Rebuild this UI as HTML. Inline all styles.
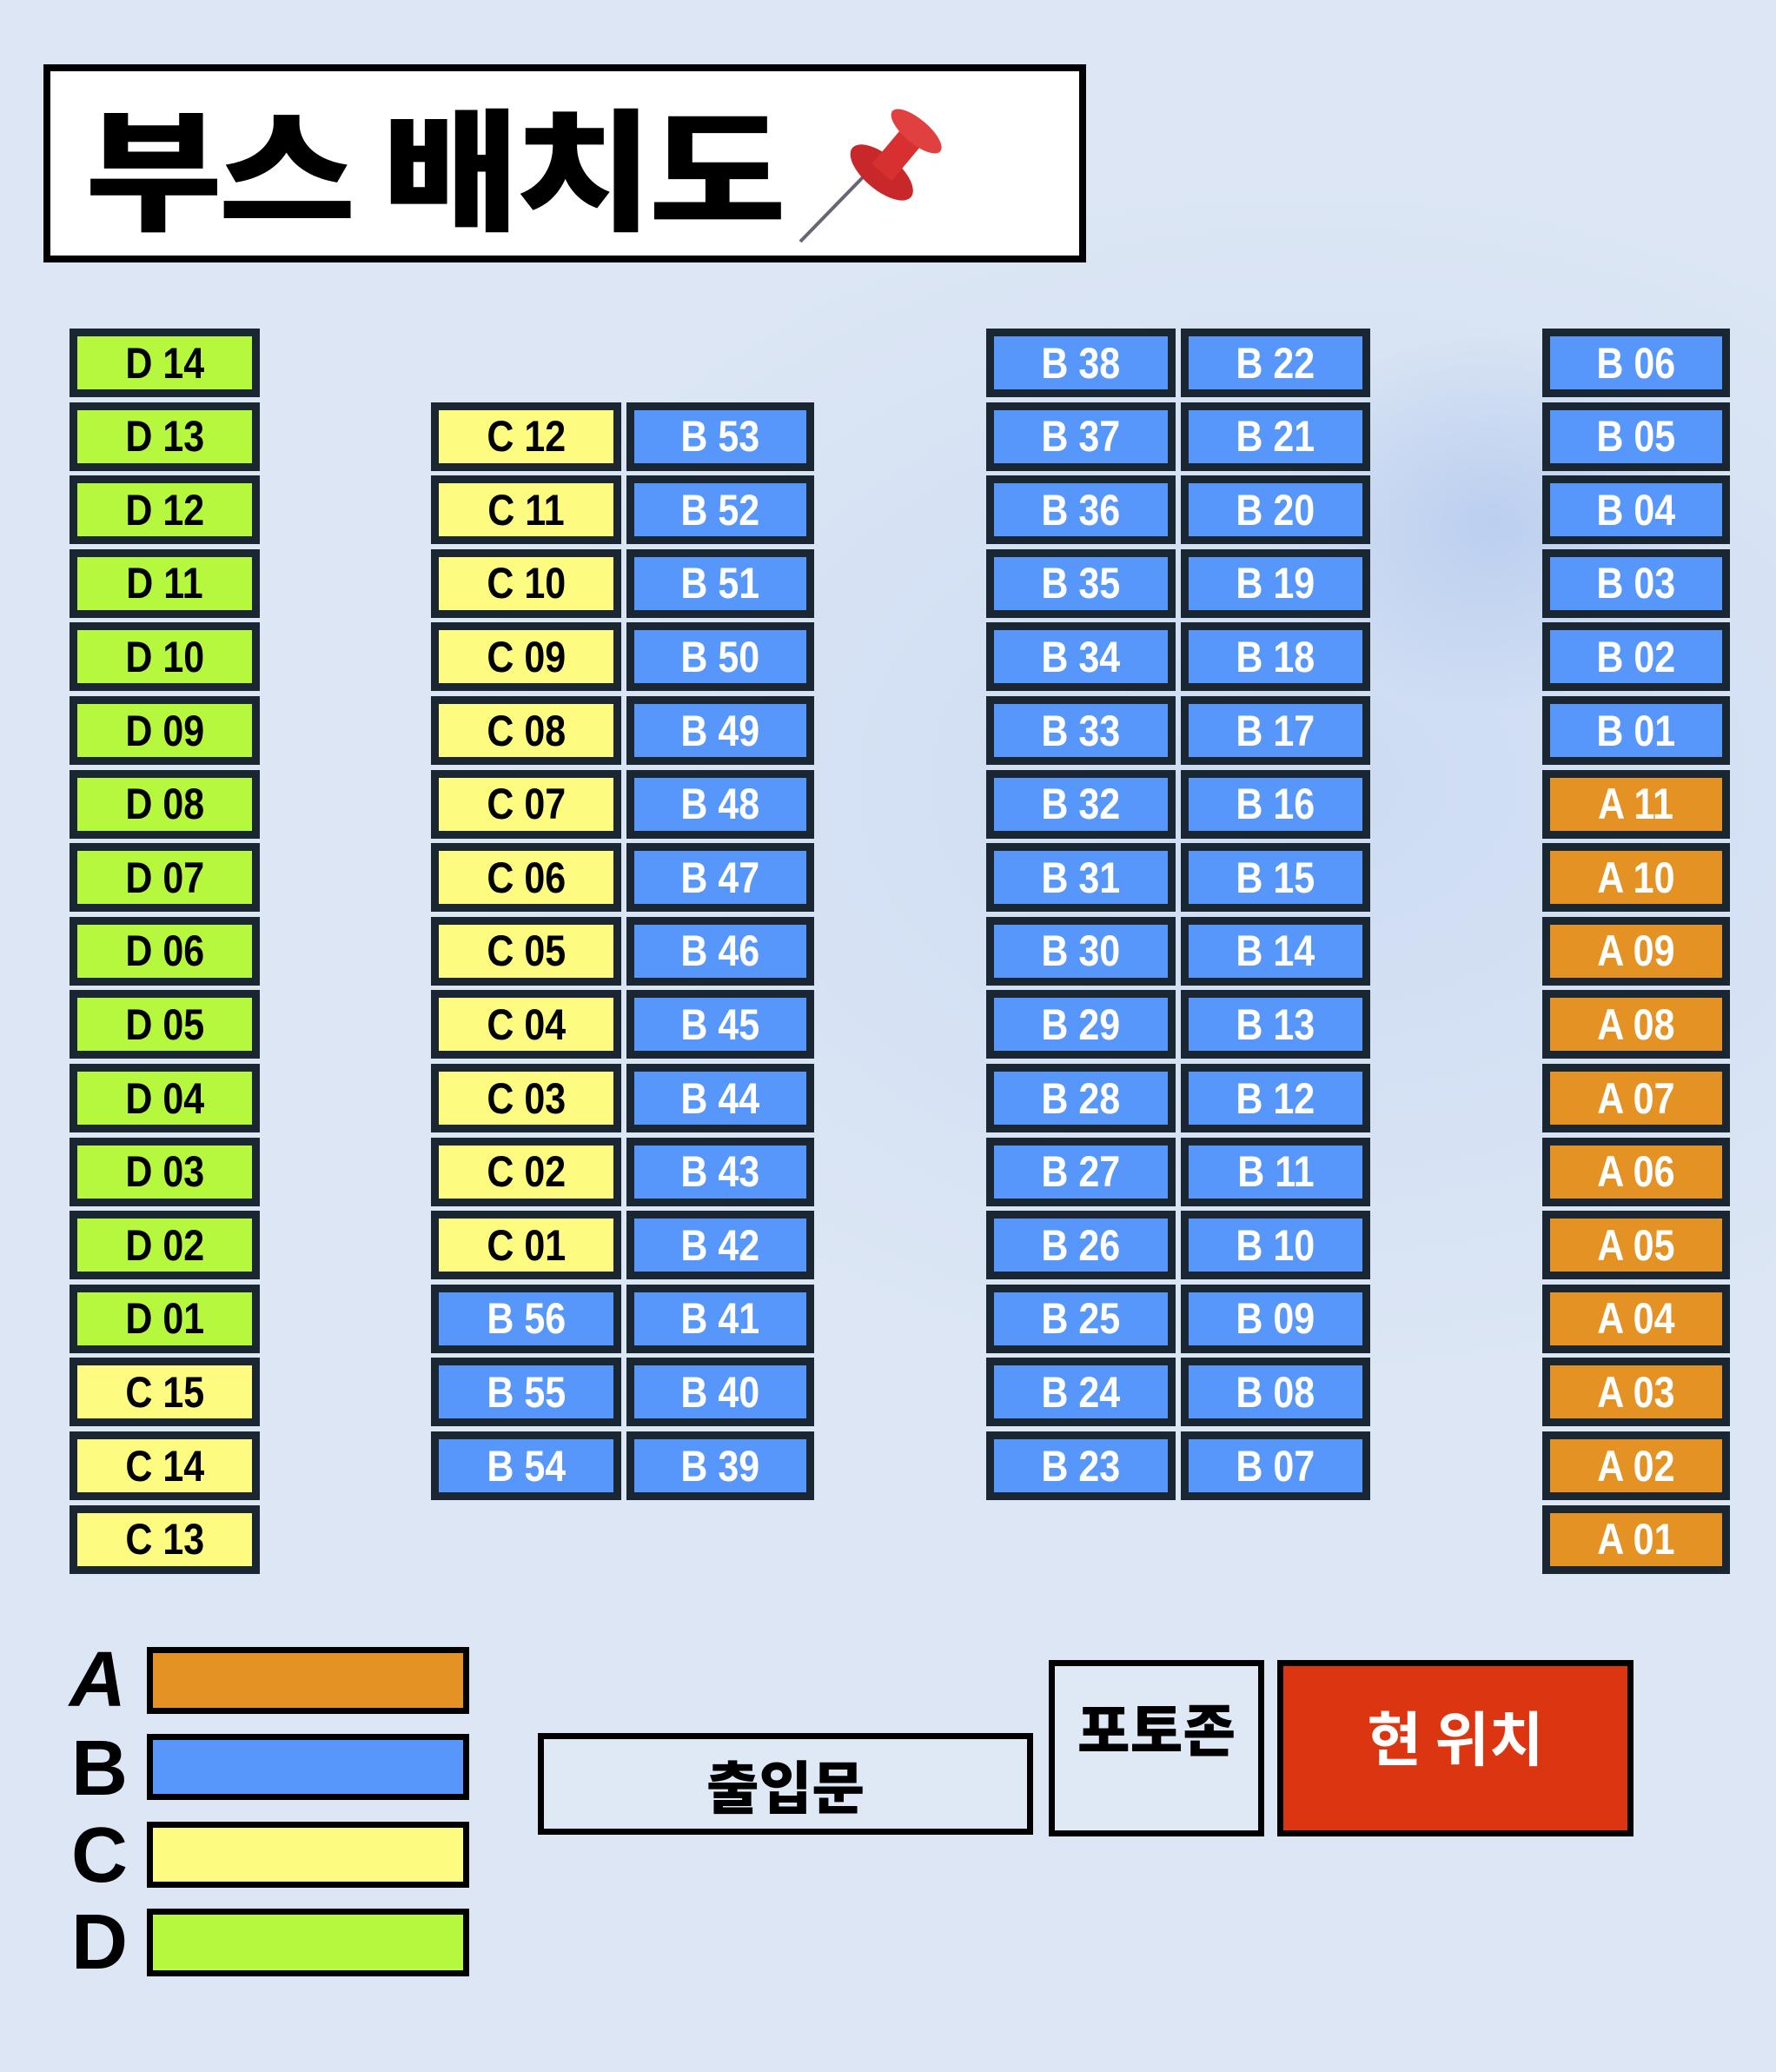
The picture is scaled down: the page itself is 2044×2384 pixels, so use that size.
<!DOCTYPE html>
<html><head><meta charset="utf-8">
<style>
html,body{margin:0;padding:0}
body{width:2044px;height:2384px;position:relative;overflow:hidden;
background:radial-gradient(ellipse 260px 220px at 1720px 600px,rgba(130,165,230,.3),rgba(130,165,230,0)),radial-gradient(ellipse 1000px 700px at 1500px 900px,rgba(170,195,240,.3),rgba(170,195,240,0)),#dce6f4;
font-family:"Liberation Sans","Noto Sans CJK KR",sans-serif}
.booth{position:absolute;box-sizing:border-box;border:9px solid #1a2733;display:flex;align-items:center;justify-content:center;font-size:50px;font-weight:bold}
.booth span{display:inline-block;transform:scaleX(.86)}
.box{position:absolute;box-sizing:border-box;border:7px solid #000;display:flex;align-items:center;justify-content:center;font-family:"Noto Sans CJK KR",sans-serif;font-weight:900}
.leg{position:absolute;font-weight:900;font-size:90px;line-height:90px;font-family:"Liberation Sans",sans-serif}
</style></head><body>
<div style="position:absolute;left:50px;top:74px;width:1200px;height:228px;box-sizing:border-box;border:8px solid #000;background:#fff"></div>
<div style="position:absolute;left:98px;top:92px;font-family:'Noto Sans CJK KR',sans-serif;font-weight:900;font-size:152px;line-height:190px;letter-spacing:-4px;transform:scaleX(1.13);transform-origin:left center">부스 배치도</div>
<svg style="position:absolute;left:915px;top:104px" width="185" height="180" viewBox="0 0 185 180">
<line x1="6" y1="174" x2="78" y2="100" stroke="#667" stroke-width="4"/>
<g transform="rotate(40 110 90)">
<ellipse cx="105" cy="100" rx="44" ry="20" fill="#c8282a"/>
<rect x="90" y="40" width="30" height="60" fill="#d83030"/>
<ellipse cx="105" cy="38" rx="36" ry="14" fill="#e04040"/>
</g></svg>
<div id="grid"></div>
<div class="leg" style="left:80px;top:1888px;font-style:italic">A</div>
<div class="leg" style="left:82px;top:1990px">B</div>
<div class="leg" style="left:82px;top:2090px">C</div>
<div class="leg" style="left:82px;top:2190px">D</div>
<div class="box" style="left:169px;top:1895px;width:371px;height:77px;background:#e59224"></div>
<div class="box" style="left:169px;top:1995px;width:371px;height:76px;background:#5796fb"></div>
<div class="box" style="left:169px;top:2096px;width:371px;height:76px;background:#fefc80"></div>
<div class="box" style="left:169px;top:2196px;width:371px;height:78px;background:#b5f83e"></div>
<div class="box" style="left:619px;top:1994px;width:570px;height:117px;background:#dfe8f5;font-size:66px">출입문</div>
<div class="box" style="left:1207px;top:1910px;width:248px;height:203px;background:#dfe8f5;font-size:66px;padding-bottom:50px">포토존</div>
<div class="box" style="left:1470px;top:1910px;width:410px;height:203px;background:#dc3512;color:#fff;font-size:68px;font-weight:bold;padding-bottom:30px">현 위치</div>
<script>
const colX=[80,496,721,1135,1359,1775];
const colW=[219,219,216,218,218,216];
const colStart=[0,1,1,0,0,0];
const col0=['D 14','D 13','D 12','D 11','D 10','D 09','D 08','D 07','D 06','D 05','D 04','D 03','D 02','D 01','C 15','C 14','C 13'];
const col1=['C 12','C 11','C 10','C 09','C 08','C 07','C 06','C 05','C 04','C 03','C 02','C 01','B 56','B 55','B 54'];
const col2=['B 53','B 52','B 51','B 50','B 49','B 48','B 47','B 46','B 45','B 44','B 43','B 42','B 41','B 40','B 39'];
const col3=['B 38','B 37','B 36','B 35','B 34','B 33','B 32','B 31','B 30','B 29','B 28','B 27','B 26','B 25','B 24','B 23'];
const col4=['B 22','B 21','B 20','B 19','B 18','B 17','B 16','B 15','B 14','B 13','B 12','B 11','B 10','B 09','B 08','B 07'];
const col5=['B 06','B 05','B 04','B 03','B 02','B 01','A 11','A 10','A 09','A 08','A 07','A 06','A 05','A 04','A 03','A 02','A 01'];
const cols=[col0,col1,col2,col3,col4,col5];
const fills={A:['#e59224','#fff'],B:['#5796fb','#fff'],C:['#fefc80','#000'],D:['#b5f83e','#000']};
const g=document.getElementById('grid');
cols.forEach((c,ci)=>{c.forEach((lab,ri)=>{
 const d=document.createElement('div');
 d.className='booth';
 
 
 const r=colStart[ci]+ri;
 const f=fills[lab[0]];
 d.style.left=colX[ci]+'px';d.style.top=(378+r*84.6)+'px';
 d.style.width=colW[ci]+'px';d.style.height='79px';
 d.style.background=f[0];d.style.color=f[1];
 d.innerHTML='<span>'+lab+'</span>';
 g.appendChild(d);
});});
</script>
</body></html>
